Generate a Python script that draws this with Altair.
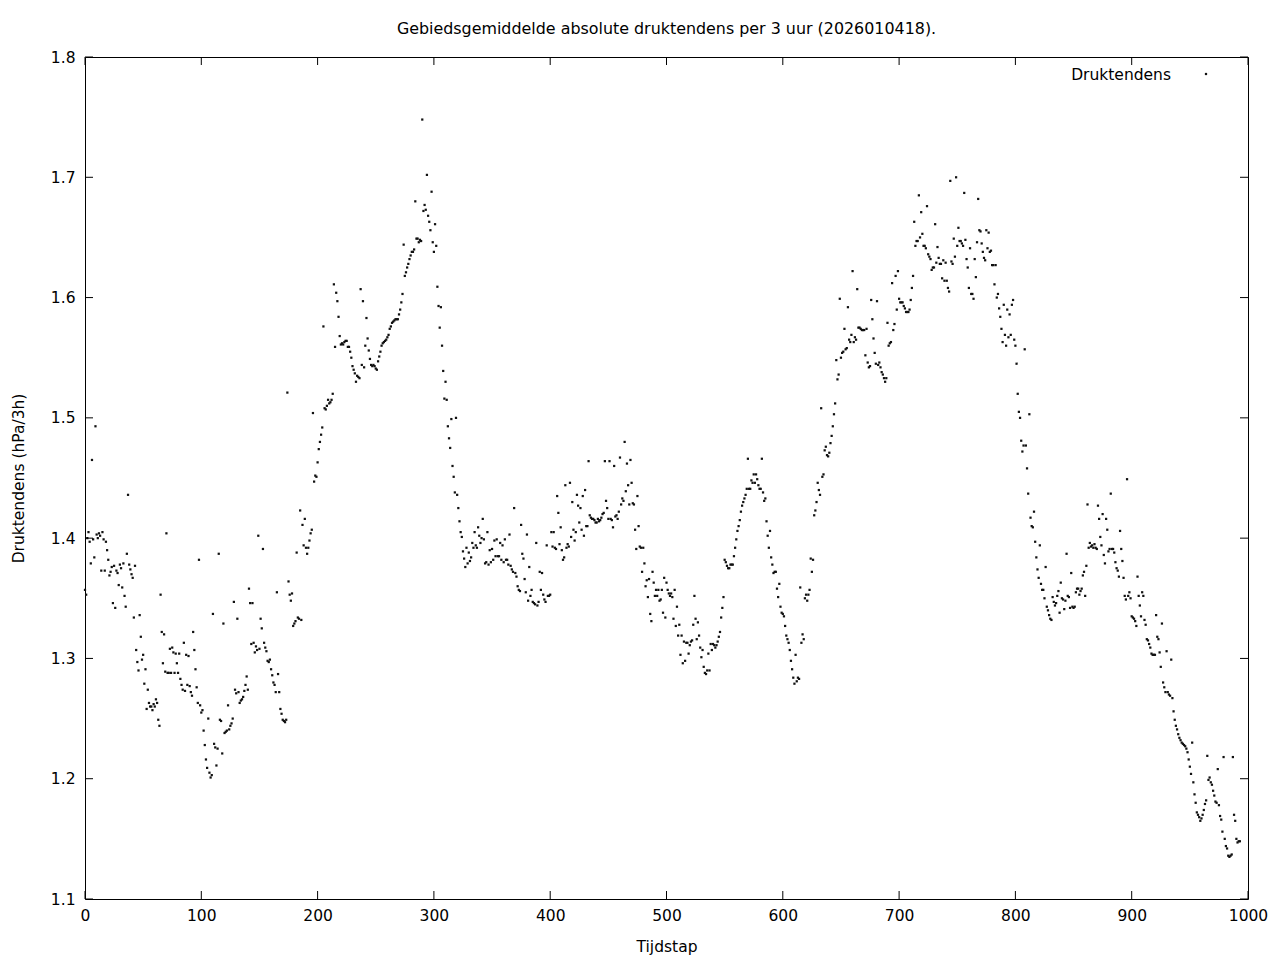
import altair as alt
import pandas as pd

# Druktendens (hPa/3h) per tijdstap
druk = [
    1.357, 1.353, 1.400, 1.405, 1.397, 1.379, 1.465, 1.399, 1.384, 1.493,
    1.403, 1.400, 1.404, 1.402, 1.373, 1.405, 1.399, 1.373, 1.397, 1.390,
    1.382, 1.369, 1.372, 1.376, 1.346, 1.377, 1.342, 1.373, 1.371, 1.361,
    1.378, 1.375, 1.359, 1.379, 1.352, 1.343, 1.387, 1.436, 1.378, 1.374,
    1.370, 1.367, 1.334, 1.377, 1.307, 1.297, 1.290, 1.336, 1.318, 1.299,
    1.303, 1.279, 1.291, 1.258, 1.274, 1.263, 1.260, 1.260, 1.257, 1.262,
    1.260, 1.266, 1.263, 1.249, 1.244, 1.353, 1.322, 1.296, 1.320, 1.289,
    1.404, 1.288, 1.288, 1.308, 1.288, 1.309, 1.305, 1.288, 1.304, 1.296,
    1.288, 1.304, 1.283, 1.278, 1.274, 1.313, 1.273, 1.303, 1.278, 1.302,
    1.277, 1.272, 1.269, 1.322, 1.307, 1.291, 1.276, 1.263, 1.382, 1.261,
    1.255, 1.257, 1.240, 1.228, 1.216, 1.209, 1.250, 1.205, 1.201, 1.203,
    1.337, 1.229, 1.226, 1.211, 1.225, 1.387, 1.249, 1.248, 1.221, 1.329,
    1.238, 1.239, 1.240, 1.261, 1.241, 1.244, 1.246, 1.250, 1.347, 1.274,
    1.271, 1.333, 1.272, 1.263, 1.265, 1.266, 1.268, 1.273, 1.278, 1.285,
    1.274, 1.358, 1.346, 1.312, 1.346, 1.313, 1.305, 1.310, 1.307, 1.402,
    1.308, 1.333, 1.325, 1.391, 1.313, 1.309, 1.306, 1.298, 1.297, 1.299,
    1.291, 1.286, 1.280, 1.278, 1.272, 1.355, 1.287, 1.272, 1.258, 1.254,
    1.249, 1.248, 1.247, 1.249, 1.521, 1.364, 1.353, 1.348, 1.354, 1.327,
    1.329, 1.331, 1.388, 1.334, 1.333, 1.423, 1.332, 1.411, 1.394, 1.416,
    1.392, 1.387, 1.392, 1.398, 1.404, 1.407, 1.504, 1.447, 1.452, 1.451,
    1.463, 1.474, 1.480, 1.486, 1.492, 1.576, 1.508, 1.507, 1.510, 1.515,
    1.512, 1.513, 1.515, 1.520, 1.611, 1.559, 1.604, 1.597, 1.584, 1.568,
    1.561, 1.562, 1.561, 1.563, 1.564, 1.564, 1.559, 1.559, 1.555, 1.550,
    1.543, 1.540, 1.537, 1.530, 1.535, 1.534, 1.533, 1.607, 1.544, 1.597,
    1.542, 1.560, 1.583, 1.566, 1.556, 1.549, 1.544, 1.543, 1.544, 1.543,
    1.541, 1.540, 1.547, 1.551, 1.555, 1.560, 1.562, 1.563, 1.564, 1.565,
    1.567, 1.569, 1.574, 1.576, 1.579, 1.580, 1.581, 1.582, 1.582, 1.582,
    1.586, 1.590, 1.596, 1.603, 1.644, 1.618, 1.621, 1.625, 1.628, 1.632,
    1.635, 1.638, 1.638, 1.640, 1.680, 1.649, 1.649, 1.646, 1.648, 1.647,
    1.748, 1.672, 1.677, 1.673, 1.702, 1.668, 1.663, 1.656, 1.688, 1.646,
    1.638, 1.661, 1.643, 1.609, 1.593, 1.575, 1.592, 1.560, 1.539, 1.516,
    1.530, 1.515, 1.493, 1.483, 1.475, 1.499, 1.460, 1.451, 1.438, 1.500,
    1.436, 1.425, 1.414, 1.405, 1.401, 1.389, 1.383, 1.376, 1.392, 1.379,
    1.388, 1.381, 1.384, 1.396, 1.392, 1.405, 1.394, 1.392, 1.409, 1.402,
    1.396, 1.400, 1.416, 1.399, 1.379, 1.380, 1.405, 1.378, 1.390, 1.380,
    1.391, 1.382, 1.398, 1.385, 1.399, 1.385, 1.385, 1.396, 1.382, 1.394,
    1.380, 1.399, 1.382, 1.382, 1.378, 1.403, 1.377, 1.374, 1.372, 1.425,
    1.371, 1.368, 1.360, 1.357, 1.356, 1.411, 1.387, 1.383, 1.366, 1.355,
    1.403, 1.348, 1.376, 1.352, 1.357, 1.347, 1.346, 1.345, 1.396, 1.344,
    1.347, 1.372, 1.357, 1.371, 1.353, 1.349, 1.347, 1.394, 1.352, 1.352,
    1.353, 1.405, 1.393, 1.405, 1.392, 1.391, 1.435, 1.421, 1.395, 1.409,
    1.390, 1.382, 1.384, 1.444, 1.392, 1.395, 1.393, 1.446, 1.401, 1.430,
    1.407, 1.398, 1.405, 1.436, 1.427, 1.413, 1.425, 1.407, 1.435, 1.402,
    1.440, 1.410, 1.410, 1.464, 1.419, 1.417, 1.416, 1.416, 1.415, 1.413,
    1.413, 1.416, 1.414, 1.415, 1.417, 1.420, 1.421, 1.464, 1.431, 1.425,
    1.416, 1.464, 1.416, 1.415, 1.409, 1.460, 1.418, 1.419, 1.416, 1.422,
    1.467, 1.428, 1.433, 1.431, 1.480, 1.439, 1.462, 1.444, 1.428, 1.465,
    1.446, 1.429, 1.428, 1.407, 1.391, 1.435, 1.410, 1.393, 1.392, 1.372,
    1.392, 1.379, 1.360, 1.365, 1.351, 1.366, 1.337, 1.331, 1.372, 1.363,
    1.352, 1.357, 1.352, 1.357, 1.348, 1.349, 1.357, 1.338, 1.367, 1.334,
    1.363, 1.357, 1.354, 1.352, 1.354, 1.351, 1.333, 1.357, 1.327, 1.343,
    1.319, 1.328, 1.303, 1.319, 1.296, 1.314, 1.298, 1.313, 1.313, 1.304,
    1.311, 1.314, 1.315, 1.328, 1.352, 1.333, 1.316, 1.330, 1.319, 1.309,
    1.301, 1.307, 1.293, 1.288, 1.287, 1.290, 1.304, 1.290, 1.312, 1.307,
    1.312, 1.311, 1.309, 1.311, 1.314, 1.318, 1.322, 1.334, 1.342, 1.351,
    1.382, 1.380, 1.377, 1.375, 1.375, 1.378, 1.378, 1.378, 1.385, 1.392,
    1.399, 1.406, 1.410, 1.415, 1.422, 1.427, 1.430, 1.433, 1.436, 1.441,
    1.466, 1.441, 1.441, 1.448, 1.446, 1.453, 1.446, 1.453, 1.449, 1.444,
    1.441, 1.441, 1.466, 1.438, 1.431, 1.433, 1.414, 1.402, 1.392, 1.406,
    1.384, 1.378, 1.371, 1.372, 1.372, 1.358, 1.351, 1.362, 1.343, 1.338,
    1.337, 1.335, 1.327, 1.319, 1.316, 1.313, 1.307, 1.298, 1.291, 1.284,
    1.279, 1.303, 1.281, 1.284, 1.283, 1.359, 1.313, 1.320, 1.316, 1.350,
    1.353, 1.348, 1.353, 1.357, 1.383, 1.372, 1.382, 1.419, 1.423, 1.430,
    1.446, 1.440, 1.436, 1.508, 1.451, 1.453, 1.473, 1.476, 1.469, 1.468,
    1.471, 1.479, 1.485, 1.493, 1.503, 1.512, 1.548, 1.532, 1.536, 1.599,
    1.550, 1.554, 1.555, 1.574, 1.557, 1.558, 1.592, 1.565, 1.563, 1.569,
    1.622, 1.563, 1.567, 1.565, 1.607, 1.575, 1.575, 1.574, 1.573, 1.573,
    1.573, 1.552, 1.574, 1.546, 1.542, 1.543, 1.598, 1.582, 1.566, 1.554,
    1.545, 1.597, 1.544, 1.546, 1.542, 1.538, 1.536, 1.533, 1.530, 1.533,
    1.579, 1.560, 1.562, 1.563, 1.612, 1.573, 1.578, 1.618, 1.590, 1.622,
    1.599, 1.596, 1.596, 1.596, 1.593, 1.591, 1.588, 1.588, 1.588, 1.590,
    1.598, 1.608, 1.618, 1.663, 1.643, 1.647, 1.647, 1.685, 1.650, 1.671,
    1.653, 1.643, 1.643, 1.641, 1.676, 1.636, 1.634, 1.632, 1.623, 1.625,
    1.625, 1.661, 1.629, 1.642, 1.633, 1.628, 1.628, 1.616, 1.631, 1.614,
    1.629, 1.614, 1.608, 1.605, 1.697, 1.630, 1.628, 1.649, 1.634, 1.700,
    1.643, 1.658, 1.647, 1.647, 1.645, 1.643, 1.687, 1.648, 1.632, 1.625,
    1.608, 1.641, 1.603, 1.603, 1.599, 1.632, 1.617, 1.646, 1.682, 1.656,
    1.655, 1.645, 1.638, 1.633, 1.631, 1.656, 1.641, 1.654, 1.638, 1.639,
    1.627, 1.627, 1.611, 1.627, 1.600, 1.603, 1.591, 1.584, 1.574, 1.563,
    1.594, 1.569, 1.560, 1.590, 1.567, 1.586, 1.569, 1.594, 1.598, 1.565,
    1.560, 1.545, 1.520, 1.505, 1.500, 1.481, 1.472, 1.477, 1.557, 1.477,
    1.458, 1.437, 1.503, 1.417, 1.410, 1.409, 1.422, 1.397, 1.384, 1.374,
    1.367, 1.394, 1.362, 1.357, 1.357, 1.350, 1.376, 1.343, 1.340, 1.336,
    1.333, 1.332, 1.351, 1.347, 1.344, 1.346, 1.352, 1.356, 1.338, 1.363,
    1.350, 1.349, 1.341, 1.348, 1.387, 1.352, 1.351, 1.342, 1.371, 1.343,
    1.342, 1.343, 1.355, 1.358, 1.358, 1.353, 1.356, 1.358, 1.369, 1.372,
    1.352, 1.377, 1.428, 1.392, 1.396, 1.393, 1.394, 1.392, 1.395, 1.392,
    1.391, 1.427, 1.416, 1.401, 1.394, 1.420, 1.386, 1.379, 1.416, 1.407,
    1.389, 1.391, 1.437, 1.391, 1.391, 1.388, 1.380, 1.375, 1.373, 1.368,
    1.406, 1.391, 1.381, 1.367, 1.352, 1.349, 1.449, 1.352, 1.355, 1.350,
    1.335, 1.334, 1.333, 1.331, 1.327, 1.368, 1.352, 1.344, 1.335, 1.355,
    1.352, 1.332, 1.328, 1.316, 1.315, 1.312, 1.309, 1.304, 1.303, 1.303,
    1.303, 1.336, 1.318, 1.316, 1.305, 1.293, 1.329, 1.280, 1.276, 1.272,
    1.306, 1.272, 1.270, 1.269, 1.299, 1.267, 1.256, 1.249, 1.244, 1.241,
    1.237, 1.234, 1.232, 1.230, 1.229, 1.228, 1.227, 1.225, 1.222, 1.216,
    1.210, 1.204, 1.230, 1.197, 1.187, 1.180, 1.172, 1.170, 1.168, 1.165,
    1.167, 1.170, 1.174, 1.179, 1.182, 1.219, 1.199, 1.201, 1.197, 1.195,
    1.190, 1.186, 1.181, 1.180, 1.208, 1.178, 1.169, 1.166, 1.156, 1.218,
    1.150, 1.144, 1.142, 1.136, 1.135, 1.136, 1.137, 1.218, 1.170, 1.165,
    1.150, 1.147, 1.148, 1.148,
]
tijdstap = list(range(len(druk)))

x_ticks = [0, 100, 200, 300, 400, 500, 600, 700, 800, 900, 1000]
y_ticks = [1.1, 1.2, 1.3, 1.4, 1.5, 1.6, 1.7, 1.8]
legend_label = ["Druktendens"]

title_text = "Gebiedsgemiddelde absolute druktendens per 3 uur (2026010418)."

W, H = 1163, 842
FONT = "DejaVu Sans"
FS = 15.5
TICK = 8

df = pd.DataFrame({"Tijdstap": tijdstap, "Druktendens": druk})
xt = pd.DataFrame({"Tijdstap": x_ticks})
yt = pd.DataFrame({"Druktendens": y_ticks})
lg = pd.DataFrame({"label": legend_label})

xs = alt.Scale(domain=[0, 1000], nice=False, zero=False)
ys = alt.Scale(domain=[1.1, 1.8], nice=False, zero=False)

x_axis = alt.Axis(values=x_ticks, format="d", title="Tijdstap",
                  ticks=False, tickSize=0, domain=False, grid=False,
                  labelFlush=False, labelPadding=9, titleX=W / 2, titleY=47,
                  titleBaseline="middle", titleAlign="center")
y_axis = alt.Axis(values=y_ticks, format=".1f", title="Druktendens (hPa/3h)",
                  ticks=False, tickSize=0, domain=False, grid=False,
                  labelFlush=False, labelPadding=10, titleX=-67, titleY=H / 2,
                  titleBaseline="middle", titleAlign="center", titleAngle=-90)

points = alt.Chart(df).mark_square(size=5, color="#111111", opacity=1).encode(
    x=alt.X("Tijdstap:Q", scale=xs, axis=x_axis),
    y=alt.Y("Druktendens:Q", scale=ys, axis=y_axis),
)

left_ticks = alt.Chart(yt).mark_rule(color="black", strokeWidth=1).encode(
    y=alt.Y("Druktendens:Q", scale=ys, axis=y_axis),
    x=alt.value(0), x2=alt.value(TICK))
right_ticks = alt.Chart(yt).mark_rule(color="black", strokeWidth=1).encode(
    y=alt.Y("Druktendens:Q", scale=ys, axis=y_axis),
    x=alt.value(W - TICK), x2=alt.value(W))
bottom_ticks = alt.Chart(xt).mark_rule(color="black", strokeWidth=1).encode(
    x=alt.X("Tijdstap:Q", scale=xs, axis=x_axis),
    y=alt.value(H - TICK), y2=alt.value(H))
top_ticks = alt.Chart(xt).mark_rule(color="black", strokeWidth=1).encode(
    x=alt.X("Tijdstap:Q", scale=xs, axis=x_axis),
    y=alt.value(0), y2=alt.value(TICK))

legend_text = alt.Chart(lg).mark_text(
    font=FONT, fontSize=FS, align="right", baseline="alphabetic", color="black"
).encode(text="label:N", x=alt.value(1086), y=alt.value(23))
legend_dot = alt.Chart(lg).mark_square(size=5, color="#111111", opacity=1).encode(
    x=alt.value(1121), y=alt.value(17))

chart = alt.layer(
    points, left_ticks, right_ticks, bottom_ticks, top_ticks, legend_text, legend_dot
).properties(
    width=W, height=H,
    background="white",
    title=alt.TitleParams(text=title_text, font=FONT, fontSize=15.9,
                          fontWeight="normal", color="black", anchor="middle",
                          baseline="bottom", offset=-3),
    autosize=alt.AutoSizeParams(type="none"),
    padding={"left": 77, "top": 49, "right": 24, "bottom": 60},
).configure_view(
    stroke="black", strokeWidth=1
).configure_axis(
    labelFont=FONT, titleFont=FONT, labelFontSize=FS, titleFontSize=FS,
    labelColor="black", titleColor="black", titleFontWeight="normal"
)

chart.save("out.html", embed_options={"renderer": "svg", "actions": False})
